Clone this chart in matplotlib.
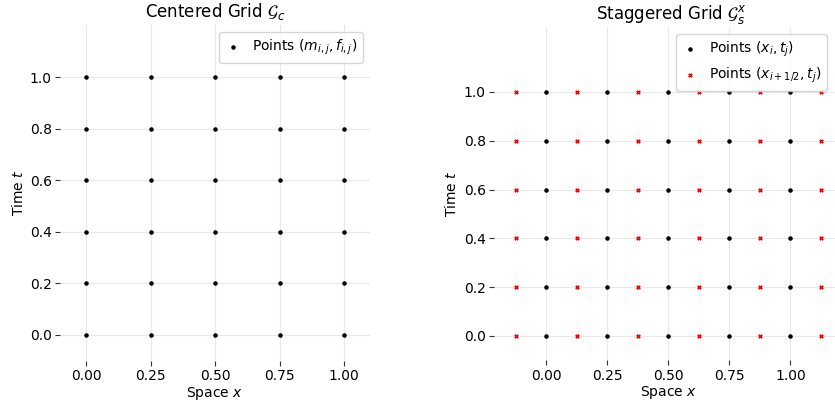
import numpy as np
import matplotlib
matplotlib.use("Agg")
import matplotlib.pyplot as plt

# grid nodes
x_centers = [0.0, 0.25, 0.5, 0.75, 1.0]
t_levels = [0.0, 0.2, 0.4, 0.6, 0.8, 1.0]
x_half = [-0.125, 0.125, 0.375, 0.625, 0.875, 1.125]

x_ticks = [0.0, 0.25, 0.5, 0.75, 1.0]
t_ticks = [0.0, 0.2, 0.4, 0.6, 0.8, 1.0]

W, H = 835, 404
fig = plt.figure(figsize=(W / 100, H / 100), dpi=100)

ax1 = fig.add_axes([60.2 / W, (H - 360.8) / H, 309.6 / W, 335.4 / H])
ax2 = fig.add_axes([494 / W, (H - 360.4) / H, 348.9 / W, 333.4 / H])


def style(ax):
    for s in ax.spines.values():
        s.set_visible(False)
    ax.grid(True, color="#e8e8e8", linewidth=0.8)
    ax.set_axisbelow(True)
    ax.tick_params(length=3.5, width=0.8, color="#333333", labelsize=10, pad=2.5)
    ax.set_xticks(x_ticks)
    ax.set_yticks(t_ticks)
    ax.set_xlabel("Space $x$", labelpad=1)
    ax.set_ylabel("Time $t$", labelpad=3)


# centered grid
X, T = np.meshgrid(x_centers, t_levels)
ax1.scatter(X.ravel(), T.ravel(), s=5, color="black", label=r"Points $(m_{i,j}, f_{i,j})$")
ax1.set_xlim(-0.1, 1.1)
ax1.set_ylim(-0.1, 1.2)
style(ax1)
ax1.set_title(r"Centered Grid $\mathcal{G}_c$", fontsize=12)
ax1.legend(loc="upper right", fontsize=10, handlelength=1.2, handletextpad=0.8)

# staggered grid
X, T = np.meshgrid(x_centers, t_levels)
Xh, Th = np.meshgrid(x_half, t_levels)
ax2.scatter(X.ravel(), T.ravel(), s=5, color="black", label=r"Points $(x_i, t_j)$")
ax2.scatter(Xh.ravel(), Th.ravel(), s=6, marker="x", color="red", linewidths=1.3,
            label=r"Points $(x_{i+1/2}, t_j)$")
ax2.set_xlim(-0.215, 1.215)
ax2.set_ylim(-0.1, 1.266)
style(ax2)
ax2.set_title(r"Staggered Grid $\mathcal{G}_s^x$", fontsize=12, x=(835 - 494 + 14) / 2 / 348.9)
ax2.legend(loc="upper right", bbox_to_anchor=((835 - 494 - 1) / 348.9, 1.0), fontsize=10,
           handlelength=1.2, handletextpad=0.8)

fig.savefig("out.png", dpi=100)
